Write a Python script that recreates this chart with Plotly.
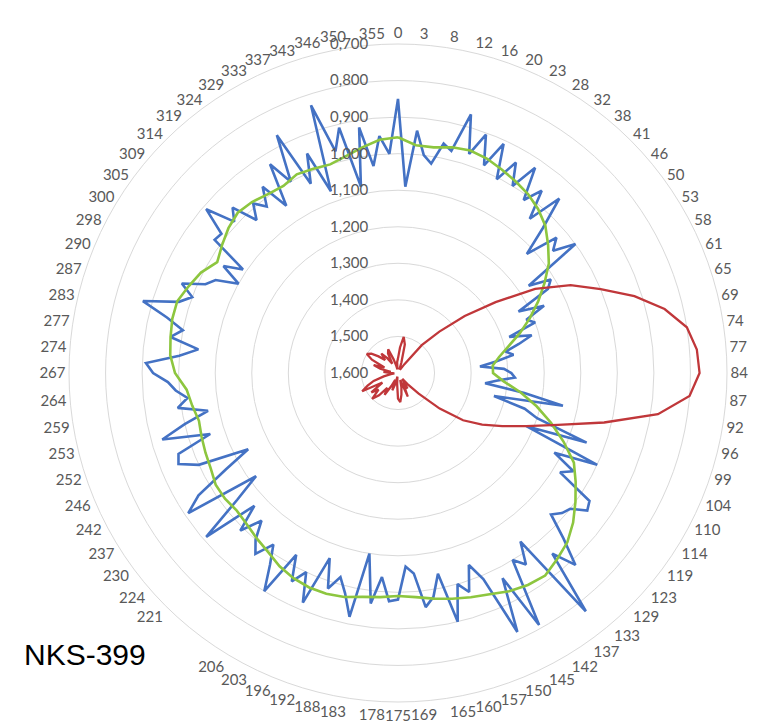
import numpy as np
import plotly.graph_objects as go

# Category labels (measured angles), one per category position
angle_labels = ["0", "3", "8", "12", "16", "20", "23", "28", "32", "38",
                "41", "46", "50", "53", "58", "61", "65", "69", "74", "77",
                "84", "87", "92", "96", "99", "104", "110", "114", "119", "123",
                "129", "133", "137", "142", "145", "150", "157", "160", "165", "169",
                "175", "178", "183", "188", "192", "196", "203", "206", "", "",
                "221", "224", "230", "237", "242", "246", "252", "253", "259", "264",
                "267", "274", "277", "283", "287", "290", "298", "300", "305", "309",
                "314", "319", "324", "329", "333", "337", "343", "346", "350", "355"]

# Blue series (twice as dense as the labelled categories)
blue_values = [
    0.85, 1.09, 0.935, 1.0, 1.02, 0.96, 0.975, 0.865, 0.97, 0.905,
    0.985, 0.91, 1.005, 0.94, 1.0, 0.925, 1.015, 0.965, 1.045, 0.95,
    1.04, 1.12, 1.03, 1.06, 1.0, 1.17, 1.11, 1.13, 1.23, 1.16,
    1.22, 1.2, 1.28, 1.22, 1.26, 1.3, 1.28, 1.33, 1.375, 1.31,
    1.29, 1.28, 1.33, 1.36, 1.25, 1.14, 1.33, 1.24, 1.2, 1.05,
    1.22, 1.0, 1.12, 1.05, 1.08, 0.97, 0.96, 1.0, 1.01, 1.03,
    0.96, 0.885, 0.95, 0.77, 1.03, 0.97, 1.0, 0.81, 0.97, 0.82,
    0.99, 1.04, 0.97, 1.0, 0.9, 1.04, 0.98, 0.955, 1.05, 1.07,
    0.98, 0.975, 1.04, 0.965, 1.1, 0.92, 0.98, 1.02, 0.98, 1.06,
    0.92, 1.0, 0.96, 1.03, 0.9, 0.97, 1.02, 0.97, 1.0, 1.05,
    0.99, 1.065, 0.91, 1.04, 1.12, 0.91, 0.96, 1.06, 1.14, 1.0,
    0.95, 0.96, 1.06, 0.93, 1.0, 1.07, 0.99, 1.02, 0.99, 0.97,
    0.93, 0.91, 1.0, 1.05, 0.97, 1.0, 0.95, 0.875, 0.97, 1.0,
    0.96, 1.02, 1.04, 1.1, 1.04, 1.09, 0.98, 0.985, 0.91, 0.99,
    0.96, 1.03, 0.99, 1.02, 0.97, 1.05, 0.93, 1.0, 0.87, 1.03,
    0.95, 1.07, 0.83, 0.97, 0.91, 1.08, 0.92, 1.03, 0.95, 1.0,
]

# Green (smoothed) series, one value per labelled category
green_values = [
    0.955, 0.975, 0.975, 0.965, 0.96, 0.965, 0.975, 0.985, 0.995, 1.01,
    1.03, 1.06, 1.09, 1.13, 1.17, 1.21, 1.25, 1.29, 1.32, 1.34,
    1.34, 1.31, 1.26, 1.21, 1.16, 1.11, 1.06, 1.03, 1.0, 0.97,
    0.945, 0.93, 0.915, 0.92, 0.93, 0.945, 0.955, 0.965, 0.975, 0.985,
    0.99, 0.985, 0.98, 0.97, 0.965, 0.965, 0.97, 0.98, 0.995, 1.005,
    1.015, 1.02, 1.015, 1.015, 1.025, 1.03, 1.035, 1.04, 1.03, 1.02,
    0.99, 0.975, 0.97, 0.965, 0.965, 0.98, 0.995, 1.02, 1.005, 0.99,
    0.98, 0.985, 0.995, 1.0, 0.99, 0.995, 1.0, 0.99, 0.975, 0.96,
]

# Red series, one value per labelled category
red_values = [
    1.56, 1.53, 1.50, 1.52, 1.57, 1.59, 1.58, 1.59, 1.57, 1.50,
    1.44, 1.36, 1.27, 1.16, 1.07, 1.0, 0.92, 0.85, 0.80, 0.78,
    0.775, 0.80, 0.88, 1.02, 1.14, 1.22, 1.28, 1.33, 1.38, 1.45,
    1.52, 1.56, 1.58, 1.55, 1.57, 1.53, 1.58, 1.56, 1.54, 1.52,
    1.53, 1.57, 1.59, 1.57, 1.55, 1.58, 1.56, 1.53, 1.55, 1.52,
    1.50, 1.53, 1.51, 1.55, 1.49, 1.51, 1.53, 1.56, 1.58, 1.59,
    1.58, 1.56, 1.58, 1.55, 1.53, 1.56, 1.52, 1.50, 1.51, 1.53,
    1.55, 1.53, 1.55, 1.57, 1.54, 1.53, 1.56, 1.58, 1.59, 1.57,
]

radial_ticks = [0.7, 0.8, 0.9, 1.0, 1.1, 1.2, 1.3, 1.4, 1.5, 1.6]

n_cat = len(angle_labels)
cat_theta = list(np.arange(n_cat) * 360.0 / n_cat)
blue_theta = list(np.arange(len(blue_values)) * 360.0 / len(blue_values))


def closed(theta, r):
    return theta + [360.0], r + [r[0]]


fig = go.Figure()
bt, br = closed(blue_theta, blue_values)
fig.add_trace(go.Scatterpolar(theta=bt, r=br, mode="lines",
                              line=dict(color="#4472C4", width=2.6), name="blue"))
gt, gr = closed(cat_theta, green_values)
fig.add_trace(go.Scatterpolar(theta=gt, r=gr, mode="lines",
                              line=dict(color="#8DC63F", width=2.6), name="green"))
rt, rr = closed(cat_theta, red_values)
fig.add_trace(go.Scatterpolar(theta=rt, r=rr, mode="lines",
                              line=dict(color="#C0373A", width=2.3), name="red"))

W, H = 773, 726
cx, cy, R = 390, 365, 329
fig.update_layout(
    width=W, height=H,
    margin=dict(l=0, r=0, t=0, b=0),
    paper_bgcolor="white",
    showlegend=False,
    separators=",.",
    font=dict(family="Lato", color="#595959", size=15),
    polar=dict(
        domain=dict(x=[(cx - R) / W, (cx + R) / W],
                    y=[(H - cy - R) / H, (H - cy + R) / H]),
        bgcolor="white",
        angularaxis=dict(
            direction="clockwise", rotation=90,
            tickmode="array", tickvals=cat_theta, ticktext=angle_labels,
            showgrid=False, showline=True, linecolor="#D9D9D9", linewidth=1,
            ticks="", tickfont=dict(size=15, color="#595959"),
        ),
        radialaxis=dict(
            range=[1.6, 0.7], tickmode="array", tickvals=radial_ticks,
            tickformat=".3f",
            angle=90, tickangle=90, side="counterclockwise",
            showline=False, ticks="outside", ticklen=24, tickcolor="rgba(0,0,0,0)",
            gridcolor="#D9D9D9", gridwidth=1,
            tickfont=dict(size=15, color="#595959"),
        ),
    ),
    annotations=[dict(text="NKS-399", x=14 / W, y=1 - 646 / H, xref="paper", yref="paper",
                      xanchor="left", yanchor="middle", showarrow=False,
                      font=dict(family="Liberation Sans", size=30, color="black"))],
)

fig.write_html("out.html")
